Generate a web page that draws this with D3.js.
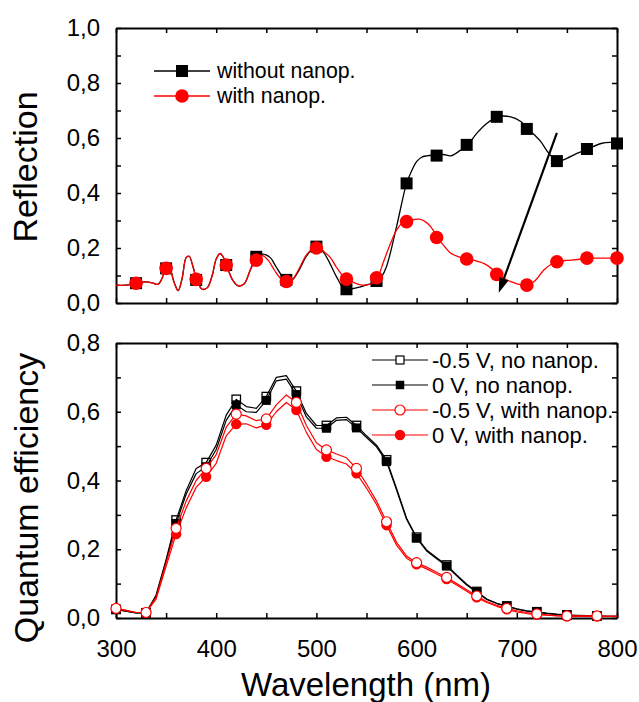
<!DOCTYPE html>
<html><head><meta charset="utf-8">
<script src="https://cdn.jsdelivr.net/npm/d3@7"></script>
<style>
body{margin:0;background:#fff}
svg{display:block}
text{font-family:"Liberation Sans",Arial,Helvetica,sans-serif;fill:#000}
</style>
</head><body>
<svg id="c" width="639" height="702"></svg>
<script>
// ---------- Top panel: Reflection ----------
const reflNoWl = [300,310,320,330,337,342,346,350,354,358,362,366,370,373,377,381,386,391,396,400,404,408,412,417,422,428,434,440,447,454,460,466,471,476,482,490,497,502,510,520,527,531,544,552,560,565,570,580,590,595,600,605,610,620,627,634,644,651,660,670,681,694,704,711,718,724,732,741,750,760,771,784,794,800];
const reflNo   = [0.065,0.065,0.072,0.077,0.072,0.068,0.09,0.128,0.12,0.075,0.045,0.09,0.165,0.17,0.13,0.08,0.05,0.055,0.1,0.16,0.18,0.16,0.12,0.08,0.062,0.07,0.12,0.168,0.178,0.165,0.13,0.098,0.084,0.085,0.115,0.17,0.2,0.206,0.168,0.096,0.054,0.05,0.059,0.068,0.077,0.095,0.133,0.278,0.435,0.48,0.514,0.53,0.535,0.538,0.54,0.535,0.556,0.575,0.617,0.653,0.677,0.677,0.66,0.633,0.61,0.587,0.544,0.516,0.526,0.544,0.56,0.58,0.584,0.58];
const reflNanoWl = [300,310,320,330,337,342,346,350,354,358,362,366,370,373,377,381,386,391,396,400,404,408,412,417,422,428,434,440,446,452,458,464,470,475,482,490,497,502,508,514,520,525,531,538,544,550,556,561,567,574,580,586,591,597,603,609,614,621,628,634,642,651,660,667,675,681,688,694,702,711,718,727,734,741,750,757,765,772,780,790,800];
const reflNano   = [0.065,0.065,0.072,0.077,0.072,0.068,0.09,0.128,0.12,0.075,0.045,0.09,0.165,0.17,0.13,0.08,0.05,0.055,0.1,0.16,0.18,0.16,0.12,0.08,0.062,0.07,0.12,0.158,0.172,0.155,0.12,0.09,0.076,0.08,0.12,0.175,0.2,0.205,0.185,0.165,0.13,0.105,0.087,0.073,0.066,0.066,0.072,0.092,0.15,0.217,0.265,0.292,0.298,0.303,0.305,0.295,0.278,0.238,0.205,0.181,0.168,0.16,0.152,0.144,0.125,0.104,0.088,0.078,0.068,0.065,0.08,0.12,0.14,0.15,0.155,0.157,0.16,0.163,0.163,0.163,0.163];
const reflMarkWl   = [320,350,380,410,440,470,500,530,560,590,620,650,680,710,740,770,800];
const reflMarkNo   = [0.072,0.126,0.084,0.138,0.168,0.084,0.205,0.05,0.08,0.435,0.536,0.575,0.677,0.633,0.516,0.56,0.58];
const reflMarkNano = [0.072,0.126,0.086,0.138,0.156,0.078,0.2,0.087,0.092,0.296,0.238,0.16,0.104,0.065,0.15,0.163,0.163];
const arrowFrom = [740, 0.619];
const arrowTo   = [682, 0.037];
const reflLegend = ["without nanop.", "with nanop."];

// ---------- Bottom panel: Quantum efficiency ----------
const qeWl = d3.range(300, 801, 10);
const qeNoNanoNeg = [0.025,0.02,0.015,0.015,0.067,0.17,0.285,0.37,0.435,0.452,0.503,0.59,0.636,0.615,0.61,0.644,0.7,0.705,0.66,0.595,0.56,0.56,0.582,0.584,0.56,0.53,0.503,0.46,0.377,0.29,0.235,0.198,0.175,0.154,0.125,0.098,0.077,0.055,0.043,0.035,0.027,0.021,0.018,0.014,0.011,0.009,0.008,0.007,0.006,0.005,0.005];
const qeNoNano0   = [0.025,0.02,0.015,0.015,0.062,0.165,0.275,0.36,0.42,0.44,0.49,0.575,0.62,0.6,0.598,0.633,0.69,0.695,0.65,0.585,0.552,0.552,0.575,0.577,0.553,0.525,0.498,0.455,0.372,0.287,0.232,0.195,0.172,0.151,0.123,0.096,0.075,0.054,0.042,0.034,0.026,0.02,0.017,0.013,0.01,0.008,0.007,0.006,0.005,0.005,0.005];
const qeNanoNeg   = [0.028,0.022,0.016,0.016,0.06,0.16,0.261,0.34,0.4,0.435,0.475,0.555,0.593,0.588,0.574,0.579,0.62,0.649,0.627,0.56,0.51,0.489,0.477,0.466,0.435,0.39,0.34,0.28,0.22,0.18,0.161,0.148,0.133,0.118,0.1,0.082,0.064,0.048,0.037,0.028,0.021,0.016,0.012,0.009,0.007,0.006,0.006,0.006,0.006,0.005,0.005];
const qeNano0     = [0.028,0.022,0.016,0.016,0.055,0.15,0.244,0.32,0.38,0.411,0.45,0.53,0.564,0.565,0.553,0.562,0.6,0.627,0.605,0.54,0.49,0.469,0.458,0.448,0.421,0.378,0.33,0.27,0.212,0.174,0.156,0.143,0.128,0.113,0.096,0.078,0.06,0.045,0.034,0.025,0.018,0.013,0.01,0.008,0.006,0.005,0.005,0.005,0.005,0.005,0.005];
const qeLegend = ["-0.5 V, no nanop.", "0 V, no nanop.", "-0.5 V, with nanop.", "0 V, with nanop."];

const xTicks = [300,400,500,600,700,800];
const xMinor = [350,450,550,650,750];
const reflTicks = [0,0.2,0.4,0.6,0.8,1.0];
const reflMinor = [0.1,0.3,0.5,0.7,0.9];
const qeTicks = [0,0.2,0.4,0.6,0.8];
const qeMinor = [0.1,0.3,0.5,0.7];

// ---------- Drawing ----------
const RED = "#ff0000";
const svg = d3.select("#c");
const x = d3.scaleLinear().domain([300,800]).range([116,617]);
const yR = d3.scaleLinear().domain([0,1]).range([303,28]);
const yQ = d3.scaleLinear().domain([0,0.8]).range([618,343]);
const fmt = d => d3.format(".1f")(d).replace(".", ",");

function frame(y, yt, ym, labelX) {
  const [yb, yt0] = y.range();
  const g = svg.append("g");
  const styleAxis = sel => {
    sel.selectAll(".domain").attr("stroke", "#000").attr("stroke-width", 2);
    sel.selectAll(".tick line").attr("stroke", "#000").attr("stroke-width", 1.5);
    sel.selectAll("text").attr("font-size", 24).attr("fill", "#000")
       .style("font-family", '"Liberation Sans",Arial,Helvetica,sans-serif');
  };
  g.append("g").attr("transform", `translate(${x.range()[0]},0)`)
    .call(d3.axisLeft(y).tickValues(yt.concat(ym)).tickSize(-5).tickSizeOuter(0).tickPadding(16)
      .tickFormat(d => yt.includes(d) ? fmt(d) : "")).call(styleAxis);
  g.append("g").attr("transform", `translate(${x.range()[1]},0)`)
    .call(d3.axisRight(y).tickValues(yt.concat(ym)).tickSize(-5).tickSizeOuter(0).tickFormat("")).call(styleAxis);
  g.append("g").attr("transform", `translate(0,${yt0})`)
    .call(d3.axisTop(x).tickValues(xTicks.concat(xMinor)).tickSize(-5).tickSizeOuter(0).tickFormat("")).call(styleAxis);
  g.append("g").attr("transform", `translate(0,${yb})`)
    .call(d3.axisBottom(x).tickValues(xTicks.concat(xMinor)).tickSize(-5).tickSizeOuter(0).tickPadding(22)
      .tickFormat(d => labelX && xTicks.includes(d) ? d : "")).call(styleAxis);
}

function line(wl, vals, y, color, curve, width) {
  svg.append("path")
    .datum(wl.map((w,i) => [w, vals[i]]))
    .attr("fill", "none").attr("stroke", color).attr("stroke-width", width)
    .attr("stroke-linejoin", "round")
    .attr("d", d3.line().x(d => x(d[0])).y(d => y(d[1])).curve(curve));
}
function squares(pts, size, fill, stroke, sw) {
  svg.append("g").selectAll("rect").data(pts).join("rect")
    .attr("x", d => d[0] - size/2).attr("y", d => d[1] - size/2)
    .attr("width", size).attr("height", size)
    .attr("fill", fill).attr("stroke", stroke).attr("stroke-width", sw);
}
function circles(pts, r, fill, stroke, sw) {
  svg.append("g").selectAll("circle").data(pts).join("circle")
    .attr("cx", d => d[0]).attr("cy", d => d[1]).attr("r", r)
    .attr("fill", fill).attr("stroke", stroke).attr("stroke-width", sw);
}

// Top panel
frame(yR, reflTicks, reflMinor, false);
const cr = d3.curveCatmullRom.alpha(0.5);
line(reflNoWl, reflNo, yR, "#000", cr, 1.3);
squares(reflMarkWl.map((w,i) => [x(w), yR(reflMarkNo[i])]), 12, "#000", "none", 0);
line(reflNanoWl, reflNano, yR, RED, cr, 1.3);
circles(reflMarkWl.map((w,i) => [x(w), yR(reflMarkNano[i])]), 6.8, RED, "none", 0);

// arrow
{
  const x1 = x(arrowFrom[0]), y1 = yR(arrowFrom[1]), x2 = x(arrowTo[0]), y2 = yR(arrowTo[1]);
  const ang = Math.atan2(y2 - y1, x2 - x1), L = 15, Wd = 5;
  const bx = x2 - L*Math.cos(ang), by = y2 - L*Math.sin(ang);
  svg.append("line").attr("x1", x1).attr("y1", y1).attr("x2", bx).attr("y2", by)
    .attr("stroke", "#000").attr("stroke-width", 2.2);
  svg.append("path").attr("fill", "#000")
    .attr("d", `M${x2},${y2}L${bx + Wd*Math.sin(ang)},${by - Wd*Math.cos(ang)}L${bx - Wd*Math.sin(ang)},${by + Wd*Math.cos(ang)}Z`);
}

// top legend
{
  const rows = [71, 96];
  const lx1 = 154, lx2 = 210, mx = 182, tx = 217;
  const cols = ["#000", RED];
  rows.forEach((ry, i) => {
    svg.append("line").attr("x1", lx1).attr("x2", lx2).attr("y1", ry).attr("y2", ry)
      .attr("stroke", cols[i]).attr("stroke-width", 1.3);
    if (i === 0) squares([[mx, ry]], 12, "#000", "none", 0);
    else circles([[mx, ry]], 6.8, RED, "none", 0);
    svg.append("text").attr("x", tx).attr("y", ry).attr("dy", "0.35em")
      .attr("font-size", 21.3).text(reflLegend[i]);
  });
}

// Bottom panel
frame(yQ, qeTicks, qeMinor, true);
const lin = d3.curveLinear;
const mIdx = qeWl.map((w,i) => i).filter(i => (qeWl[i] - 300) % 30 === 0 && qeWl[i] <= 780);
line(qeWl, qeNoNano0, yQ, "#000", lin, 1.2);
line(qeWl, qeNoNanoNeg, yQ, "#000", lin, 1.2);
squares(mIdx.map(i => [x(qeWl[i]), yQ(qeNoNano0[i])]), 9, "#000", "none", 0);
squares(mIdx.map(i => [x(qeWl[i]), yQ(qeNoNanoNeg[i])]), 8.5, "none", "#000", 1.3);
line(qeWl, qeNano0, yQ, RED, lin, 1.2);
line(qeWl, qeNanoNeg, yQ, RED, lin, 1.2);
circles(mIdx.map(i => [x(qeWl[i]), yQ(qeNano0[i])]), 5.2, RED, "none", 0);
circles(mIdx.map(i => [x(qeWl[i]), yQ(qeNanoNeg[i])]), 5, "#fff", RED, 1.2);

// bottom legend
{
  const rows = [360, 385, 410, 435];
  const lx1 = 372, lx2 = 428, mx = 400, tx = 432;
  rows.forEach((ry, i) => {
    const col = i < 2 ? "#000" : RED;
    svg.append("line").attr("x1", lx1).attr("x2", lx2).attr("y1", ry).attr("y2", ry)
      .attr("stroke", col).attr("stroke-width", 1.2);
    if (i === 0) squares([[mx, ry]], 8, "#fff", "#000", 1.2);
    if (i === 1) squares([[mx, ry]], 8.5, "#000", "none", 0);
    if (i === 2) circles([[mx, ry]], 5, "#fff", RED, 1.2);
    if (i === 3) circles([[mx, ry]], 5.2, RED, "none", 0);
    svg.append("text").attr("x", tx).attr("y", ry).attr("dy", "0.35em")
      .attr("font-size", 22).text(qeLegend[i]);
  });
}

// axis titles
svg.append("text").attr("transform", "translate(37,167) rotate(-90)")
  .attr("text-anchor", "middle").attr("font-size", 34).text("Reflection");
svg.append("text").attr("transform", "translate(38,498) rotate(-90)")
  .attr("text-anchor", "middle").attr("font-size", 34).text("Quantum efficiency");
svg.append("text").attr("x", 366).attr("y", 696)
  .attr("text-anchor", "middle").attr("font-size", 33).text("Wavelength (nm)");
</script>
</body></html>
